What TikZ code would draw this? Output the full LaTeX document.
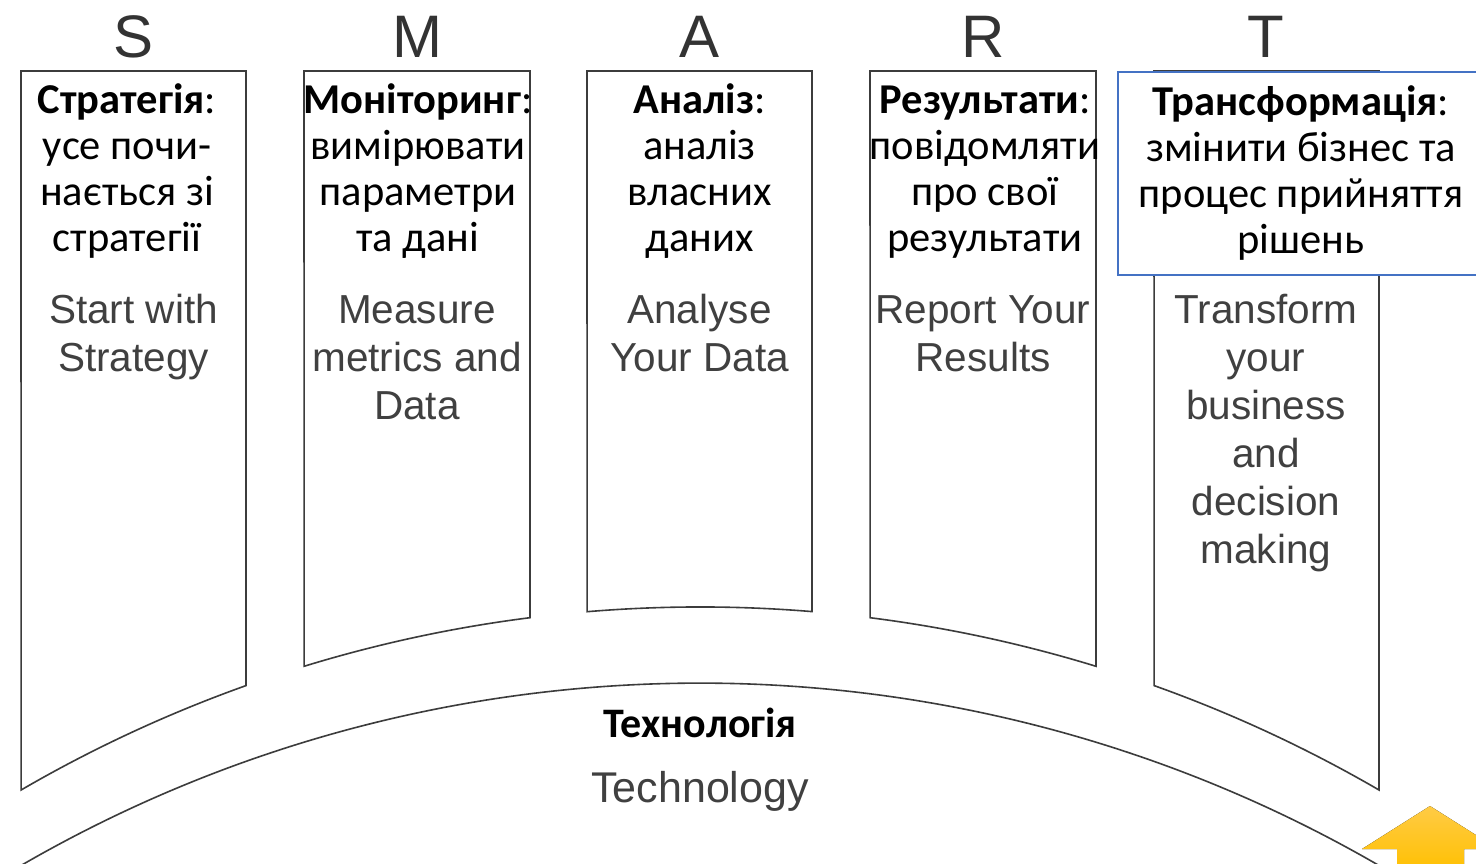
\documentclass[tikz,border=0pt]{standalone}
\usepackage{fontspec}
\setmainfont{Carlito}
\newfontfamily\enfont{Liberation Sans}
\definecolor{edge}{HTML}{3C3C3C}
\definecolor{entext}{HTML}{404040}
\definecolor{lettercol}{HTML}{333333}
\definecolor{boxblue}{HTML}{4472C4}
\definecolor{arrtop}{HTML}{FFCB45}
\definecolor{arrbot}{HTML}{FFC000}
\begin{document}
\begin{tikzpicture}[x=1pt,y=1pt,
  colshape/.style={draw=edge, line width=1.6pt, fill=white},
  uk/.style={anchor=north, inner sep=0pt, align=center, font=\fontsize{42.5}{46}\selectfont},
  en/.style={anchor=north, inner sep=0pt, align=center, text=entext, font=\enfont\fontsize{40.5}{48}\selectfont},
  lettr/.style={anchor=base, inner sep=0pt, text=lettercol, font=\enfont\fontsize{60}{72}\selectfont},
  bluebox/.style={draw=boxblue, line width=1.5pt, fill=white},
]
\useasboundingbox (0,0) rectangle (1476,863);
\clip (0,0) rectangle (1476,863);
\fill[white] (0,0) rectangle (1476,863);

% technology arch
\draw[edge, line width=1.6pt] (700,-1175) ++(58.7:1355) arc[start angle=58.7, end angle=121.3, radius=1355];

% columns
\draw[colshape] (21,792) -- (246,792) -- (246,177.4) arc[start angle=109.64, end angle=120.17, radius=1351] -- cycle;
\draw[colshape] (304,792) -- (530,792) -- (530,245.3) arc[start angle=97.23, end angle=107.04, radius=1351] -- cycle;
\draw[colshape] (587,792) -- (812,792) -- (812,251.4) arc[start angle=85.25, end angle=94.80, radius=1351] -- cycle;
\draw[colshape] (870,792) -- (1096,792) -- (1096,196.7) arc[start angle=72.96, end angle=82.77, radius=1351] -- cycle;
\draw[colshape] (1154,792) -- (1379,792) -- (1379,73) arc[start angle=59.83, end angle=70.36, radius=1351] -- cycle;

% blue box
\draw[bluebox] (1118,588) rectangle (1490,791);

% letters
\node[lettr] (ls) at (133.5,805) {S};
\node[lettr] (lm) at (417,805) {M};
\node[lettr] (la) at (699.5,805) {A};
\node[lettr] (lr) at (983,805) {R};
\node[lettr] (lt) at (1266,805) {T};

% Ukrainian texts
\node[uk] (uks) at (127,782.2) {\strut\textbf{Стратегія}:\\усе почи-\\нається зі\\стратегії};
\node[uk] (ukm) at (418,782.2) {\strut\textbf{Моніторинг}:\\вимірювати\\параметри\\та дані};
\node[uk] (uka) at (699.5,782.2) {\strut\textbf{Аналіз}:\\аналіз\\власних\\даних};
\node[uk] (ukr) at (985,782.2) {\strut\textbf{Результати}:\\повідомляти\\про свої\\результати};
\node[uk] (ukt) at (1301,780.2) {\strut\textbf{Трансформація}:\\змінити бізнес та\\процес прийняття\\рішень};

% English texts
\node[en] (ens) at (133.5,573.6) {\strut Start with\\Strategy};
\node[en] (enm) at (417,573.6) {\strut Measure\\metrics and\\Data};
\node[en] (ena) at (699.5,573.6) {\strut Analyse\\Your Data};
\node[en] (enr) at (983,573.6) {\strut Report Your\\Results};
\node[en] (ent) at (1266,573.6) {\strut Transform\\your\\business\\and\\decision\\making};

% technology
\node[anchor=base, inner sep=0pt, font=\bfseries\fontsize{42}{46}\selectfont] (tuk) at (700,126) {Технологія};
\node[anchor=base, inner sep=0pt, text=entext, font=\enfont\fontsize{43}{48}\selectfont] (ten) at (700,61) {Technology};

% yellow arrow
\fill[top color=arrtop, bottom color=arrbot] (1430,57) -- (1498,14) -- (1464,14) -- (1464,-10) -- (1397,-10) -- (1397,14) -- (1362,14) -- cycle;
\end{tikzpicture}
\end{document}
